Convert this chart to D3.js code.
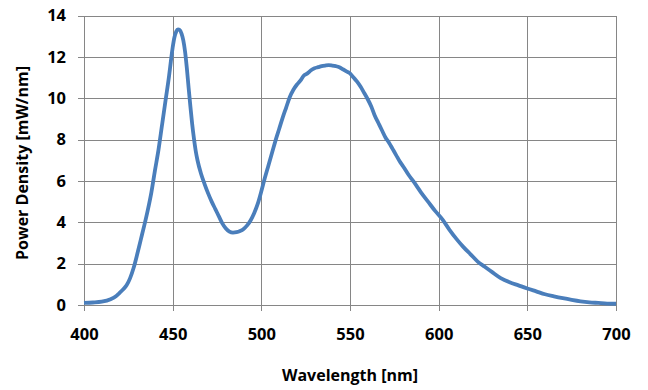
<!DOCTYPE html>
<meta charset="utf-8">
<style>
body{margin:0;background:#fff;}
text{font-family:"Open Sans",sans-serif;font-weight:bold;fill:#000;}
.tick text{font-size:16.5px;}
.title{font-size:16px;text-anchor:middle;}
.grid line{stroke:#868686;stroke-width:1px;shape-rendering:crispEdges;}
</style>
<body>
<script src="https://cdn.jsdelivr.net/npm/d3@7"></script>
<script>

var wavelength=[400,405,410,415,418,420,422,424,426,428,430,432,434,436,438,440,442,444,446,448,449,450,451,452,453,454,455,456,457,458,459,460,461,462,463,464,466,468,470,472,474,476,478,480,482,484,486,488,490,492,494,496,498,500,502,504,506,508,510,512,514,516,518,520,522,524,526,528,530,532,534,536,538,540,542,544,546,548,550,552,554,556,558,560,562,564,566,568,570,572,574,576,578,580,583,586,590,594,598,602,606,610,614,618,622,626,630,635,640,645,650,655,660,665,670,675,680,685,690,695,700];
var power=[0.10,0.12,0.16,0.28,0.42,0.58,0.75,0.95,1.3,1.8,2.45,3.15,3.85,4.6,5.45,6.5,7.5,8.7,9.9,11.1,11.8,12.45,12.95,13.22,13.33,13.3,13.12,12.8,12.25,11.45,10.5,9.6,8.75,8.05,7.45,7.0,6.35,5.85,5.4,5.0,4.65,4.3,3.95,3.7,3.55,3.5,3.52,3.58,3.68,3.85,4.1,4.45,4.9,5.5,6.15,6.75,7.35,7.95,8.5,9.05,9.55,10.05,10.4,10.65,10.85,11.1,11.2,11.35,11.45,11.5,11.55,11.58,11.6,11.58,11.55,11.5,11.4,11.3,11.2,11.0,10.8,10.55,10.25,9.95,9.6,9.15,8.8,8.45,8.1,7.85,7.55,7.25,6.95,6.7,6.3,5.95,5.45,5.0,4.55,4.15,3.65,3.2,2.8,2.45,2.1,1.85,1.6,1.3,1.1,0.95,0.8,0.66,0.52,0.42,0.33,0.25,0.18,0.13,0.1,0.07,0.06];
var xTicks=[400,450,500,550,600,650,700];
var yTicks=[0,2,4,6,8,10,12,14];

var svg=d3.select("body").append("svg").attr("width",648).attr("height",390);

var x=d3.scaleLinear().domain([400,700]).range([84,616]);
var y=d3.scaleLinear().domain([0,14]).range([305,15.5]);

// vertical grid + bottom ticks
svg.append("g").attr("class","grid")
	.attr("transform","translate(0,311)")
	.call(d3.axisBottom(x).tickValues(xTicks).tickSize(311-15.5).tickFormat(""))
	.call(g=>g.select(".domain").remove())
	.selectAll("line").attr("transform","translate(0,"+(-(311-15.5))+")");

// horizontal grid + left ticks
svg.append("g").attr("class","grid")
	.attr("transform","translate(78,0)")
	.call(d3.axisRight(y).tickValues(yTicks).tickSize(616-78).tickFormat(""))
	.call(g=>g.select(".domain").remove());

svg.append("g").attr("transform","translate(0,328)")
	.call(d3.axisBottom(x).tickValues(xTicks).tickSize(0).tickPadding(0))
	.call(g=>g.select(".domain").remove())
	.selectAll("text").attr("dy","0.71em");

svg.append("g").attr("transform","translate(66,0)")
	.call(d3.axisLeft(y).tickValues(yTicks).tickSize(0).tickPadding(0))
	.call(g=>g.select(".domain").remove());

var line=d3.line().x((d,i)=>x(wavelength[i])).y(d=>y(d)).curve(d3.curveMonotoneX);

svg.append("path").datum(power)
	.attr("fill","none")
	.attr("stroke","#4a7ebb")
	.attr("stroke-width",3.8)
	.attr("stroke-linejoin","round")
	.attr("d",line);

svg.append("text").attr("class","title").attr("x",350).attr("y",381).text("Wavelength [nm]");
svg.append("text").attr("class","title")
	.attr("transform","translate(28,163) rotate(-90)").text("Power Density [mW/nm]");
</script>
</body>
